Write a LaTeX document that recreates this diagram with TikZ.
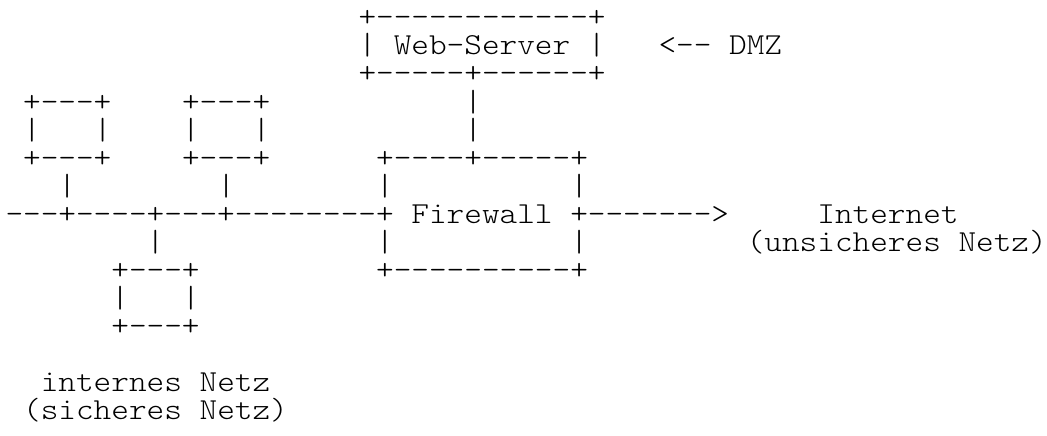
\documentclass[tikz,border=0pt]{standalone}
\usepackage{graphicx}

% light typewriter face, loaded straight from its file
\font\asciifont="[lmmonolt10-regular]" at 30.5pt

% a run of n hyphens, kept apart so no dash ligature forms
\newcommand\dsh[1]{\foreach\k in {1,...,#1}{-\kern0pt}}

\tikzset{
  ascii/.style={anchor=base west, inner sep=0pt, outer sep=0pt,
    font=\asciifont},
}
% \seg{name}{column}{row}{characters}: one run of characters on the text grid
\newcommand\seg[4]{%
  \node[ascii] (#1) at ({5.5+#2*17.65},{-27-#3*28}) {\scalebox{1.102}[1]{#4}};}

\begin{document}
\begin{tikzpicture}[x=1pt,y=1pt]
\useasboundingbox (0,0) rectangle (1047,-436);

% web server in the DMZ
\seg{wstop}{20}{0}{+\dsh{12}+}
\seg{wsl}{20}{1}{|}
\seg{wsname}{22}{1}{Web\dsh{1}Server}
\seg{wsr}{33}{1}{|}
\seg{dmz}{37}{1}{<\dsh{2} DMZ}
\seg{wsbot}{20}{2}{+\dsh{5}+\dsh{6}+}
\seg{wslinka}{26}{3}{|}
\seg{wslinkb}{26}{4}{|}

% two hosts above the LAN
\seg{pcatop}{1}{3}{+\dsh{3}+}
\seg{pcbtop}{10}{3}{+\dsh{3}+}
\seg{pcal}{1}{4}{|}
\seg{pcar}{5}{4}{|}
\seg{pcbl}{10}{4}{|}
\seg{pcbr}{14}{4}{|}
\seg{pcabot}{1}{5}{+\dsh{3}+}
\seg{pcbbot}{10}{5}{+\dsh{3}+}
\seg{pcalink}{3}{6}{|}
\seg{pcblink}{12}{6}{|}

% firewall
\seg{fwtop}{21}{5}{+\dsh{4}+\dsh{5}+}
\seg{fwla}{21}{6}{|}
\seg{fwra}{32}{6}{|}
\seg{lan}{0}{7}{\dsh{3}+\dsh{4}+\dsh{3}+\dsh{8}+}
\seg{fwname}{23}{7}{Firewall}
\seg{uplink}{32}{7}{+\dsh{7}>}
\seg{fwlb}{21}{8}{|}
\seg{fwrb}{32}{8}{|}
\seg{fwbot}{21}{9}{+\dsh{10}+}

% internet
\seg{inet}{46}{7}{Internet}
\seg{inetnote}{42}{8}{(unsicheres Netz)}

% host below the LAN
\seg{pcclink}{8}{8}{|}
\seg{pcctop}{6}{9}{+\dsh{3}+}
\seg{pccl}{6}{10}{|}
\seg{pccr}{10}{10}{|}
\seg{pccbot}{6}{11}{+\dsh{3}+}

% LAN label
\seg{lanname}{2}{13}{internes Netz}
\seg{lannote}{1}{14}{(sicheres Netz)}
\end{tikzpicture}
\end{document}
